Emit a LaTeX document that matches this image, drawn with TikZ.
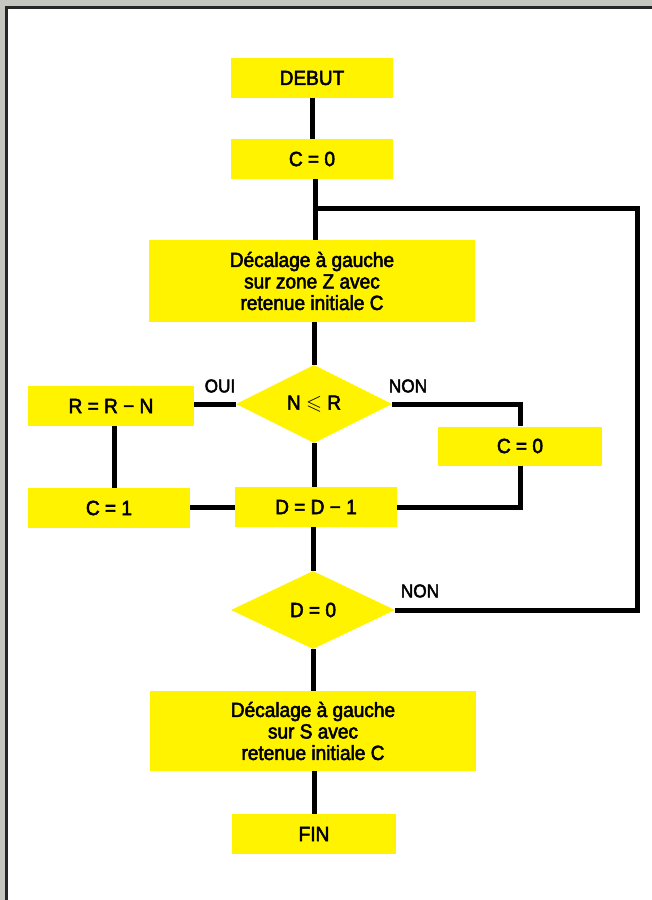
\documentclass[tikz,border=0pt]{standalone}
\usepackage{fontspec}
\usepackage{amssymb}
\setmainfont{Liberation Sans}[FakeBold=2.5, FakeStretch=0.93]
\usetikzlibrary{shapes.geometric}
\definecolor{jaune}{RGB}{255,243,0}
\definecolor{fond}{RGB}{198,198,192}

\begin{document}
\begin{tikzpicture}[x=1pt, y=-1pt,
        box/.style={fill=jaune, rectangle, inner sep=0pt, minimum width=162pt, minimum height=40pt, align=center, font=\fontsize{20.5}{21.5}\selectfont},
        choice/.style={fill=jaune, diamond, inner sep=0pt, minimum width=156pt, minimum height=78pt, font=\fontsize{20.5}{21.5}\selectfont},
        link/.style={black, line width=5pt, line join=miter},
        lbl/.style={font=\fontsize{18.5}{21}\selectfont}]
        \useasboundingbox (0,0) rectangle (652,900);
    % Below is the frame.
        \fill[fond] (0,0) rectangle (652,900);
        \draw[fill=white, draw=black!85, line width=3pt] (6.5,7.5) rectangle (700,950);
    % Below nodes are the steps.
        \node[box] (debut) at (312,78) {DEBUT};
        \node[box] (czero) at (312,159) {C = 0};
        \node[box, minimum width=326pt, minimum height=82pt] (decalz) at (312,281) {Décalage à gauche\\sur zone Z avec\\retenue initiale C};
        \node[choice] (test) at (314,404) {N $\leqslant$ R};
        \node[box, minimum width=166pt] (rmoins) at (111,406) {R = R − N};
        \node[box, minimum width=164pt, minimum height=39pt] (cnul) at (520,446) {C = 0};
        \node[box] (dmoins) at (316,507) {D = D − 1};
        \node[box] (cun) at (109,508) {C = 1};
        \node[choice, minimum width=164pt] (dtest) at (313,610) {D = 0};
        \node[box, minimum width=326pt, minimum height=80pt] (decals) at (313,731) {Décalage à gauche\\sur S avec\\retenue initiale C};
        \node[box, minimum width=164pt] (fin) at (314,834) {FIN};
        \coordinate (join) at (315,208);
        \coordinate (retour) at (637,208);
    % Below nodes are the labels.
        \node[lbl] (oui) at (220,386) {OUI};
        \node[lbl] (non) at (408,386) {NON};
        \node[lbl] (nonb) at (420,591) {NON};
    % This draws the connectors.
        \draw[link] (debut) -- (czero);
        \draw[link] (czero.south -| join) -- (join) -- (decalz.north -| join);
        \draw[link] (decalz.south -| test.north) -- (test.north);
        \draw[link] (test.west) -- (rmoins.east |- test.west);
        \draw[link] (test.east) -| (cnul.north);
        \draw[link] (cnul.south) |- (dmoins.east);
        \draw[link] (test.south) -- (dmoins.north -| test.south);
        \draw[link] ([xshift=3pt]rmoins.south) -- ([xshift=5pt]cun.north);
        \draw[link] (dmoins.west) -- (cun.east |- dmoins.west);
        \draw[link] (dmoins.south -| dtest.north) -- (dtest.north);
        \draw[link] (dtest.east) -| (retour) -- (join);
        \draw[link] (dtest.south) -- (decals.north -| dtest.south);
        \draw[link] (decals.south -| fin.north) -- (fin.north);
    \end{tikzpicture}
\end{document}
